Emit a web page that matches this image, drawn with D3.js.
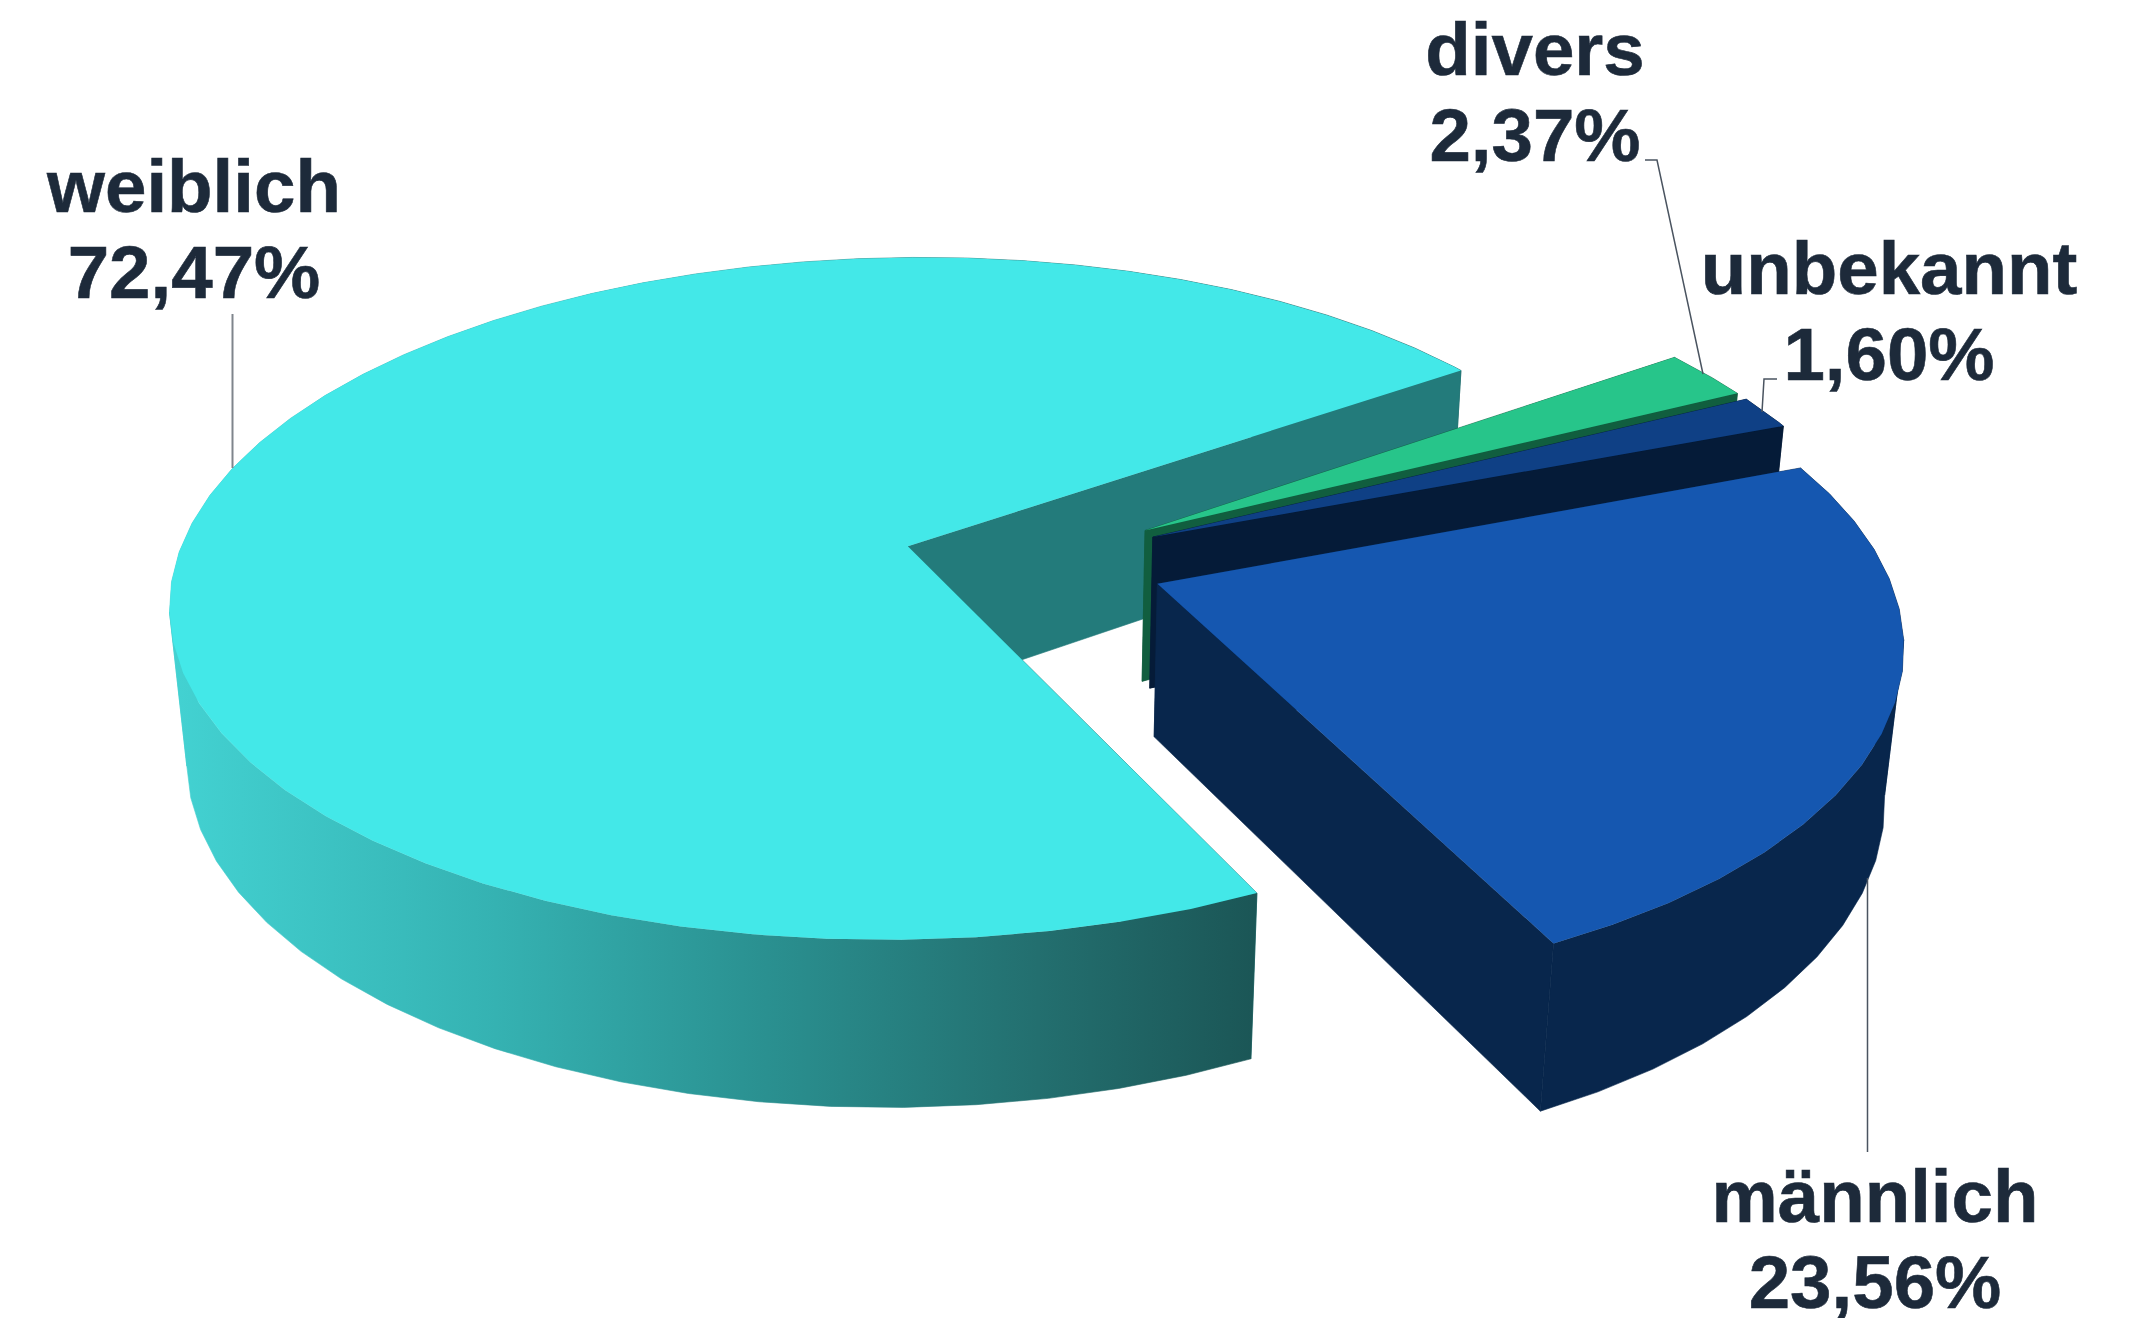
<!DOCTYPE html>
<html>
<head>
<meta charset="utf-8">
<title>Geschlecht</title>
<script src="https://cdn.jsdelivr.net/npm/d3@7"></script>
<style>
    html, body { margin: 0; padding: 0; background: #fff; }
    text { font-family: "Liberation Sans", Arial, sans-serif; font-weight: bold; font-size: 74.5px; fill: #1d2a3a; stroke: #1d2a3a; stroke-width: 0.6px; text-anchor: middle; }
</style>
</head>
<body>
<div id="chart"></div>
<script>
// Daten
const categories = ["weiblich", "divers", "unbekannt", "männlich"];
const values = [72.47, 2.37, 1.60, 23.56];
const topColors = ["#43e8e8", "#27c58a", "#0f4085", "#1557b0"];
const sideColors = ["url(#wall)", "#115e3f", "#051b38", "#08264c"];
const cutColors = ["#237b7b", "#115e3f", "#051b38", "#08264c"];

// label position and leader line per category
const labelCenters = [[194, 212], [1535, 75], [1889, 294], [1875, 1222]];
const leaders = [
    [[232.5, 314], [232.5, 468]],
    [[1645, 160], [1657, 160], [1703, 374]],
    [[1777, 379], [1764, 379], [1762, 412]],
    [[1867.5, 878], [1867.5, 1152]]
];

const width = 2142, height = 1318;
const startDeg = 154.5, explode = 0.18, stepDeg = 5;

const svg = d3.select("#chart").append("svg")
    .attr("width", width)
    .attr("height", height)
    .style("display", "block");

const grad = svg.append("defs").append("linearGradient")
    .attr("id", "wall")
    .attr("gradientUnits", "userSpaceOnUse")
    .attr("x1", 170).attr("x2", 1255).attr("y1", 0).attr("y2", 0);
[[0, "#43d2d2"], [0.3, "#35b2b2"], [0.55, "#2a9090"], [0.8, "#236f6f"], [1, "#1b5656"]].forEach(s => {
    grad.append("stop").attr("offset", s[0]).attr("stop-color", s[1]);
});

// perspective of the pie plane, unit circle -> screen
function project(u, v) {
    const w = 1 - 0.1537 * v + 0.004 * u;
    return [907 + (725 * u - 12 * v) / w, 547 + (333.4 * v - 3 * u) / w];
}

// top face point -> same point on the bottom face
function lift(p) {
    const d = 129 + 0.0411 * p[1];
    return [p[0] + d * (1000 - p[0]) / (8000 - p[1]), p[1] + d];
}

const line = d3.line();
const pie = d3.pie().sort(null)
    .startAngle(startDeg * Math.PI / 180)
    .endAngle((startDeg + 360) * Math.PI / 180);

// outer wall of a run of rim segments
function wall(g, segs, color) {
    if (!segs.length) return;
    const pts = [segs[0][0]].concat(segs.map(s => s[1]));
    g.append("path")
        .attr("d", line(pts.concat(pts.map(lift).reverse())) + "Z")
        .attr("fill", color)
        .attr("stroke", color)
        .attr("stroke-width", 0.6);
}

pie(values).forEach((d, i) => {
    const mid = (d.startAngle + d.endAngle) / 2;
    const cu = 0.175 + explode * Math.sin(mid);
    const cv = 0.044 - explode * Math.cos(mid);
    const step = stepDeg * Math.PI / 180;
    const angles = d3.range(d.startAngle, d.endAngle, step).concat(d.endAngle);

    const apex = project(cu, cv);
    const rim = angles.map(a => project(cu + Math.sin(a), cv - Math.cos(a)));
    const first = rim[0], last = rim[rim.length - 1];
    const segs = d3.pairs(rim);
    const g = svg.append("g");

    // hintere wand, schnittflaechen, vordere wand, deckel
    wall(g, segs.filter(s => s[1][0] >= s[0][0]), sideColors[i]);
    [[apex, first], [apex, last]].forEach(e => {
        g.append("path")
            .attr("d", line([e[0], e[1], lift(e[1]), lift(e[0])]) + "Z")
            .attr("fill", cutColors[i])
            .attr("stroke", cutColors[i])
            .attr("stroke-width", 0.6);
    });
    wall(g, segs.filter(s => s[1][0] < s[0][0]), sideColors[i]);
    g.append("path")
        .attr("d", line([apex].concat(rim)) + "Z")
        .attr("fill", topColors[i]);
});

// leader lines
leaders.forEach((pts, i) => {
    svg.append("path")
        .attr("d", line(pts))
        .attr("fill", "none")
        .attr("stroke", i === 0 ? "#7f858c" : "#4a5460")
        .attr("stroke-width", i === 0 ? 2 : 1.5);
});

// labels
categories.forEach((name, i) => {
    const t = svg.append("text").attr("x", labelCenters[i][0]).attr("y", labelCenters[i][1]);
    t.text(name);
    svg.append("text")
        .attr("x", labelCenters[i][0])
        .attr("y", labelCenters[i][1] + 86)
        .text(values[i].toFixed(2).replace(".", ",") + "%");
});
</script>
</body>
</html>
